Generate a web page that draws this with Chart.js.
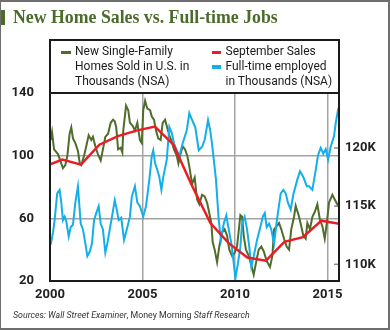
<!DOCTYPE html>
<html>
<head>
<meta charset="UTF-8">
<title>New Home Sales vs. Full-time Jobs</title>
<script src="https://cdn.jsdelivr.net/npm/chart.js@4"></script>
<style>
  * { margin: 0; padding: 0; box-sizing: border-box; }
  body { width: 390px; height: 330px; background: #fff; overflow: hidden; position: relative; font-family: Roboto, sans-serif; }
  canvas { position: absolute; left: 0; top: 0; }
  .outline { position: absolute; left: 0; top: 0; width: 390px; height: 330px; border: 2px solid #6e6e6e; border-left-width: 1px; pointer-events: none; }
  .mark { position: absolute; left: 0; top: 10px; width: 5px; height: 15px; background: #4b6b2b; }
  h1 { position: absolute; left: 13px; top: 9px; font: bold 17.8px/1 "Liberation Serif", serif; color: #4b6b2b; white-space: nowrap; }
  .legend { position: absolute; left: 49px; top: 39px; width: 291px; height: 55px; border: 2px solid #1b1b1b; }
  .sw { position: absolute; width: 9.5px; height: 3.5px; }
  .lt { position: absolute; top: 44px; font-size: 12px; line-height: 15px; color: #1b1b1b; white-space: nowrap; }
  .src { position: absolute; left: 13px; top: 311px; font-size: 8.8px; line-height: 1; color: #333; white-space: nowrap; }
  .src i { font-style: italic; }
</style>
</head>
<body>
  <canvas id="chart" width="390" height="330"></canvas>
  <div class="mark"></div>
  <h1>New Home Sales vs. Full-time Jobs</h1>

  <div class="legend"></div>
  <span class="sw" style="left:61px; top:50.5px; background:#4f6c2b"></span>
  <div class="lt" style="left:75px">New Single-Family<br>Homes Sold in U.S. in<br>Thousands (NSA)</div>
  <span class="sw" style="left:211.5px; top:50.5px; background:#ec1c24"></span>
  <span class="sw" style="left:211.5px; top:65px; background:#14aeea"></span>
  <div class="lt" style="left:225.5px">September Sales<br>Full-time employed<br>in Thousands (NSA)</div>

  <div class="src"><i>Sources: Wall Street Examiner</i>, Money Morning <i>Staff Research</i></div>
  <div class="outline"></div>

  <script>
    // --- data (x in decimal years) ---
    const xTicks = [2000, 2005, 2010, 2015];
    const leftTicks = [20, 60, 100, 140];
    const rightTicks = [110, 115, 120];

    // new single-family homes sold, thousands (left axis)
    const salesYears = [2000.04, 2000.11, 2000.22, 2000.43, 2000.70, 2000.83, 2000.94, 2001.06, 2001.15, 2001.24,
      2001.37, 2001.51, 2001.61, 2001.69, 2001.84, 2001.96, 2002.09, 2002.23, 2002.32, 2002.45,
      2002.59, 2002.74, 2002.86, 2002.99, 2003.14, 2003.28, 2003.41, 2003.50, 2003.58, 2003.68,
      2003.82, 2003.91, 2003.96, 2004.11, 2004.23, 2004.32, 2004.47, 2004.59, 2004.72, 2004.86,
      2004.96, 2005.04, 2005.14, 2005.26, 2005.41, 2005.50, 2005.62, 2005.73, 2005.85, 2005.98,
      2006.09, 2006.22, 2006.31, 2006.45, 2006.58, 2006.70, 2006.85, 2006.94, 2007.03, 2007.17,
      2007.30, 2007.42, 2007.53, 2007.68, 2007.82, 2007.95, 2008.07, 2008.22, 2008.36, 2008.49,
      2008.58, 2008.72, 2008.79, 2008.90, 2009.03, 2009.15, 2009.30, 2009.44, 2009.57, 2009.69,
      2009.84, 2009.98, 2010.11, 2010.29, 2010.38, 2010.47, 2010.59, 2010.74, 2010.88, 2011.01,
      2011.14, 2011.28, 2011.42, 2011.55, 2011.68, 2011.75, 2011.89, 2012.02, 2012.11, 2012.25,
      2012.38, 2012.50, 2012.65, 2012.79, 2012.92, 2013.04, 2013.19, 2013.28, 2013.46, 2013.58,
      2013.69, 2013.82, 2013.91, 2014.05, 2014.18, 2014.31, 2014.45, 2014.59, 2014.72, 2014.85,
      2014.96, 2015.08, 2015.26, 2015.39, 2015.57, 2015.62];
    const salesValues = [110, 115, 104, 101, 92, 94, 100, 114, 118, 111,
      108, 103, 95, 94, 100, 106, 113, 110, 112, 106,
      101, 97, 104, 112, 114, 121, 123, 122, 118, 104,
      105, 102, 116, 132, 129, 121, 119, 116, 121, 110,
      108, 129, 135, 130, 129, 125, 123, 116, 111, 110,
      121, 123, 119, 113, 109, 104, 100, 95, 100, 106,
      104, 100, 93, 82, 86, 72, 69, 75, 74, 70,
      65, 57, 45, 40, 32, 42, 51, 53, 49, 40,
      36, 38, 42, 62, 61, 49, 40, 36, 30, 24,
      32, 40, 42, 39, 34, 32, 29, 36, 53, 55,
      57, 53, 47, 42, 40, 53, 61, 68, 61, 55,
      49, 47, 57, 53, 61, 64, 69, 59, 55, 47,
      57, 70, 75, 72, 68, 67];

    // full-time employed, thousands of thousands (right axis, "K")
    const jobsYears = [2000.04, 2000.16, 2000.25, 2000.39, 2000.52, 2000.61, 2000.70, 2000.79, 2000.88, 2001.01,
      2001.12, 2001.24, 2001.37, 2001.51, 2001.66, 2001.78, 2001.91, 2002.02, 2002.15, 2002.27,
      2002.38, 2002.50, 2002.63, 2002.74, 2002.86, 2002.99, 2003.10, 2003.23, 2003.35, 2003.50,
      2003.61, 2003.71, 2003.85, 2004.00, 2004.15, 2004.32, 2004.42, 2004.59, 2004.72, 2004.86,
      2005.04, 2005.19, 2005.37, 2005.50, 2005.58, 2005.68, 2005.80, 2005.91, 2006.02, 2006.12,
      2006.31, 2006.45, 2006.58, 2006.70, 2006.85, 2006.99, 2007.17, 2007.39, 2007.53, 2007.68,
      2007.85, 2008.04, 2008.22, 2008.36, 2008.54, 2008.66, 2008.76, 2008.97, 2009.12, 2009.24,
      2009.39, 2009.53, 2009.66, 2009.80, 2009.93, 2010.02, 2010.16, 2010.29, 2010.38, 2010.52,
      2010.65, 2010.77, 2010.88, 2011.01, 2011.19, 2011.37, 2011.50, 2011.61, 2011.71, 2011.84,
      2011.96, 2012.11, 2012.29, 2012.47, 2012.61, 2012.74, 2012.86, 2013.01, 2013.15, 2013.37,
      2013.51, 2013.69, 2013.88, 2014.00, 2014.18, 2014.36, 2014.49, 2014.63, 2014.77, 2014.90,
      2015.03, 2015.17, 2015.35, 2015.44, 2015.57, 2015.62];
    const jobsValues = [111.7, 112.7, 113.8, 116.1, 116.4, 115.3, 113.8, 114.1, 113.7, 112.4,
      113.2, 113.4, 115.3, 116.7, 113.5, 113.0, 111.8, 110.7, 111.1, 111.8,
      113.8, 114.4, 115.0, 113.5, 113.0, 111.0, 111.8, 113.0, 114.1, 115.5,
      114.7, 113.8, 114.0, 112.1, 113.0, 114.1, 115.8, 116.7, 115.3, 115.0,
      114.1, 115.0, 117.3, 119.3, 119.8, 118.7, 118.1, 117.5, 116.4, 117.5,
      119.0, 121.8, 121.3, 120.4, 119.8, 119.3, 120.4, 121.5, 123.0, 122.4,
      121.8, 119.8, 120.1, 120.7, 122.4, 121.5, 120.3, 117.3, 113.8, 112.1,
      113.5, 114.2, 113.0, 111.8, 110.1, 108.8, 110.1, 111.5, 113.5, 114.1,
      113.0, 111.5, 109.8, 110.7, 112.1, 113.2, 114.1, 114.4, 113.2, 113.5,
      113.0, 111.8, 114.1, 116.1, 116.4, 116.1, 115.3, 114.7, 116.0, 117.3,
      118.0, 117.5, 116.7, 116.7, 116.4, 118.1, 119.4, 120.0, 119.5, 119.9,
      119.0, 120.1, 121.0, 122.1, 123.3, 123.5];

    // September sales, one point per year (left axis)
    const septYears = [1999.67, 2000.67, 2001.67, 2002.67, 2003.67, 2004.67, 2005.67, 2006.67, 2007.67,
      2008.67, 2009.67, 2010.67, 2011.67, 2012.67, 2013.67, 2014.67, 2015.67];
    const septValues = [93, 97.5, 94.3, 107, 112.5, 116, 118.6, 107, 81,
      57, 44, 35, 33, 45, 48, 58.5, 56.5];

    const pairs = (xs, ys) => xs.map((x, i) => ({ x, y: ys[i] }));
    const setTicks = (vals) => (scale) => { scale.ticks = vals.map(v => ({ value: v })); };
    const tickFont = { family: 'Roboto', size: 13, weight: 'bold' };

    // plot frame + small inner ticks on the right axis
    const framePlugin = {
      id: 'frame',
      afterDatasetsDraw(chart) {
        const { ctx, chartArea: a, scales } = chart;
        ctx.save();
        ctx.strokeStyle = '#8a8a8a';
        ctx.lineWidth = 1.5;
        rightTicks.forEach(v => {
          const y = scales.y1.getPixelForValue(v);
          ctx.beginPath();
          ctx.moveTo(a.right - 5, y);
          ctx.lineTo(a.right, y);
          ctx.stroke();
        });
        ctx.strokeStyle = '#1b1b1b';
        ctx.lineWidth = 2;
        ctx.strokeRect(a.left, a.top, a.right - a.left, a.bottom - a.top);
        ctx.restore();
      }
    };

    new Chart(document.getElementById('chart'), {
      type: 'line',
      data: {
        datasets: [
          {
            label: 'September Sales',
            data: pairs(septYears, septValues),
            borderColor: '#ec1c24',
            borderWidth: 2.5,
            yAxisID: 'y',
            order: 0,
          },
          {
            label: 'Full-time employed in Thousands (NSA)',
            data: pairs(jobsYears, jobsValues),
            borderColor: '#14aeea',
            borderWidth: 2,
            yAxisID: 'y1',
            order: 1,
          },
          {
            label: 'New Single-Family Homes Sold in U.S. in Thousands (NSA)',
            data: pairs(salesYears, salesValues),
            borderColor: '#4f6c2b',
            borderWidth: 2,
            yAxisID: 'y',
            order: 2,
          },
        ]
      },
      options: {
        responsive: false,
        animation: false,
        elements: { point: { radius: 0 }, line: { tension: 0, fill: false } },
        layout: { padding: { top: 93, left: 0, right: 0, bottom: 0 } },
        plugins: { legend: { display: false }, tooltip: { enabled: false } },
        scales: {
          x: {
            type: 'linear',
            min: 2000,
            max: 2015.62,
            afterBuildTicks: setTicks(xTicks),
            afterFit: (s) => { s.height = 49; },
            border: { display: false },
            grid: { color: '#a3a3a3', lineWidth: 1.5, drawTicks: false },
            ticks: { padding: 6, color: '#222', font: tickFont, maxRotation: 0, autoSkip: false, callback: v => String(v) },
          },
          y: {
            position: 'left',
            min: 20,
            max: 140,
            afterBuildTicks: setTicks(leftTicks),
            afterFit: (s) => { s.width = 50; },
            border: { display: false },
            grid: { color: '#a3a3a3', lineWidth: 1.5, drawTicks: false },
            ticks: { padding: 16, color: '#222', font: tickFont },
          },
          y1: {
            position: 'right',
            min: 108.57,
            max: 124.72,
            afterBuildTicks: setTicks(rightTicks),
            afterFit: (s) => { s.width = 51; },
            border: { display: false },
            grid: { drawOnChartArea: false, drawTicks: false },
            ticks: { padding: 6, color: '#222', font: tickFont, callback: v => v + 'K' },
          },
        }
      },
      plugins: [framePlugin]
    });
  </script>
</body>
</html>
